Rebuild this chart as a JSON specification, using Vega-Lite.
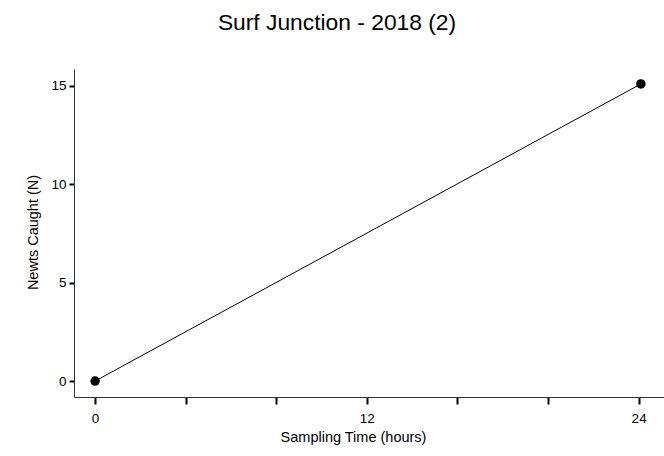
{
  "$schema": "https://vega.github.io/schema/vega-lite/v6.json",
  "autosize": {"type": "none"},
  "width": 590,
  "height": 328,
  "padding": {"left": 74, "top": 69, "right": 0, "bottom": 59},
  "background": "white",
  "title": {
    "text": "Surf Junction - 2018 (2)",
    "font": "Liberation Sans",
    "fontSize": 22.8,
    "fontWeight": "normal",
    "color": "#000000",
    "anchor": "middle",
    "dx": -32,
    "baseline": "alphabetic",
    "offset": 16
  },
  "config": {
    "view": {"stroke": null},
    "font": "Liberation Sans",
    "axis": {
      "grid": false,
      "domainColor": "#333333",
      "domainWidth": 1,
      "tickColor": "#000000",
      "tickWidth": 2,
      "labelFont": "Liberation Sans",
      "labelFontSize": 13.5,
      "labelColor": "#000000",
      "titleFont": "Liberation Sans",
      "titleFontSize": 14.5,
      "titleFontWeight": "normal",
      "titleColor": "#000000"
    }
  },
  "data": {
    "values": [
      {"hours": 0, "newts": 0},
      {"hours": 24.1, "newts": 15.1}
    ]
  },
  "encoding": {
    "x": {
      "field": "hours",
      "type": "quantitative",
      "scale": {"domain": [-0.93, 25.12], "nice": false, "zero": false},
      "axis": {
        "title": "Sampling Time (hours)",
        "values": [0, 4, 8, 12, 16, 20, 24],
        "labelExpr": "datum.value % 12 === 0 ? datum.label : ''",
        "tickSize": 7,
        "labelPadding": 7,
        "titleX": 279,
        "titleY": 40,
        "titleBaseline": "middle"
      }
    },
    "y": {
      "field": "newts",
      "type": "quantitative",
      "scale": {"domain": [-0.81, 15.86], "nice": false, "zero": false},
      "axis": {
        "title": "Newts Caught (N)",
        "values": [0, 5, 10, 15],
        "tickSize": 5,
        "labelPadding": 3,
        "titleX": -41,
        "titleY": 163,
        "titleBaseline": "middle",
        "titleAngle": -90
      }
    }
  },
  "layer": [
    {"mark": {"type": "line", "color": "#000000", "strokeWidth": 1}},
    {"mark": {"type": "point", "filled": true, "color": "#000000", "opacity": 1, "size": 90}}
  ]
}
